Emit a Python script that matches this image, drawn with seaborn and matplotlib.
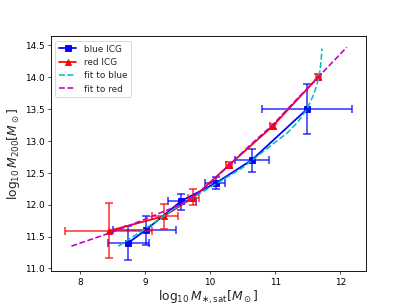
import numpy as np
import matplotlib
matplotlib.use("Agg")
import matplotlib.pyplot as plt
import seaborn as sns

# blue ICG points
blue_x = [8.74, 9.01, 9.56, 10.09, 10.64, 11.49]
blue_y = [11.40, 11.60, 12.06, 12.34, 12.70, 13.50]
blue_xlo = [8.43, 8.51, 9.36, 9.92, 10.38, 10.80]
blue_xhi = [9.06, 9.48, 9.79, 10.23, 10.91, 12.18]
blue_ylo = [11.13, 11.36, 11.91, 12.24, 12.51, 13.11]
blue_yhi = [11.66, 11.83, 12.17, 12.43, 12.88, 13.89]

# red ICG points
red_x = [8.45, 9.29, 9.74, 10.29, 10.96, 11.66]
red_y = [11.59, 11.82, 12.11, 12.62, 13.23, 14.00]
red_xlo = [7.77, 9.10, 9.66, 10.24, 10.92, 11.62]
red_xhi = [9.10, 9.50, 9.83, 10.34, 11.00, 11.70]
red_ylo = [11.17, 11.62, 11.99, 12.57, 13.19, 13.95]
red_yhi = [12.03, 12.01, 12.24, 12.67, 13.27, 14.05]

# fitted relations
fitb_x = [8.59, 9.0, 9.5, 10.0, 10.5, 10.95, 11.18, 11.35, 11.49, 11.6, 11.67, 11.70, 11.72]
fitb_y = [11.35, 11.62, 11.97, 12.27, 12.58, 12.94, 13.12, 13.30, 13.50, 13.75, 13.99, 14.20, 14.45]
fitr_x = [7.87, 8.5, 8.97, 9.23, 9.5, 9.74, 10.0, 10.29, 10.6, 10.96, 11.3, 11.66, 12.10]
fitr_y = [11.35, 11.57, 11.76, 11.87, 11.98, 12.12, 12.33, 12.62, 12.92, 13.25, 13.62, 14.00, 14.47]

sns.set_style("ticks", {'xtick.major.size': 3.5, 'ytick.major.size': 3.5})
plt.rcParams['font.family'] = ['DejaVu Sans']
plt.rcParams['mathtext.fontset'] = 'dejavusans'

fig, ax = plt.subplots(figsize=(6.4, 4.8), dpi=63.6)
fig.subplots_adjust(left=0.125, right=0.9, top=0.88, bottom=0.11)


def draw(x, y, xlo, xhi, ylo, yhi, col, mk, lab):
    x = np.array(x); y = np.array(y)
    xerr = [x - np.array(xlo), np.array(xhi) - x]
    yerr = [y - np.array(ylo), np.array(yhi) - y]
    ax.errorbar(x, y, xerr=xerr, yerr=yerr, fmt='none', ecolor=col,
                elinewidth=2, capsize=5, capthick=2, alpha=0.7)
    sns.lineplot(x=x, y=y, ax=ax, color=col, marker=mk, markersize=6.5,
                 mec=col, mew=1, lw=2, sort=False, label=lab)


draw(blue_x, blue_y, blue_xlo, blue_xhi, blue_ylo, blue_yhi, 'blue', 's', 'blue ICG')
draw(red_x, red_y, red_xlo, red_xhi, red_ylo, red_yhi, 'red', '^', 'red ICG')

sns.lineplot(x=fitb_x, y=fitb_y, ax=ax, color='c', ls='--', lw=1.8,
             sort=False, label='fit to blue')
sns.lineplot(x=fitr_x, y=fitr_y, ax=ax, color='m', ls='--', lw=1.8,
             sort=False, label='fit to red')

ax.set_xlim(7.554, 12.4)
ax.set_ylim(10.953, 14.64)
ax.set_xticks([8, 9, 10, 11, 12])
ax.set_yticks(np.arange(11.0, 14.51, 0.5))
for s in ax.spines.values():
    s.set_color('black')
    s.set_linewidth(1)
ax.tick_params(colors='black', labelsize=10, length=3.5, pad=3.5)
ax.set_xlabel(r'$\log_{10}M_{\ast,\mathrm{sat}}[M_\odot]$', fontsize=14, labelpad=2)
ax.set_ylabel(r'$\log_{10}M_{200}[M_\odot]$', fontsize=14)
ax.legend(loc='upper left', fontsize=10)

fig.savefig('out.png', dpi=63.6)
